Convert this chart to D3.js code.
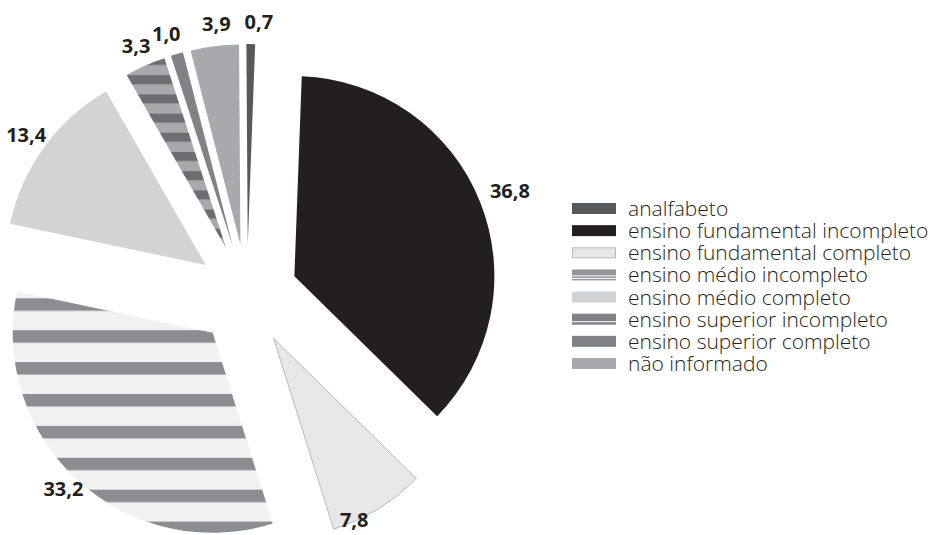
<!DOCTYPE html>
<html>
<head>
<meta charset="utf-8">
<script src="https://cdn.jsdelivr.net/npm/d3@7"></script>
<style>
  body { margin: 0; background: #fff; }
  svg { display: block; font-family: "Open Sans", "DejaVu Sans", sans-serif; }
</style>
</head>
<body>
<div id="chart"></div>
<script>
// categories and values, clockwise from the top
const categories = [
  'analfabeto',
  'ensino fundamental incompleto',
  'ensino fundamental completo',
  'ensino médio incompleto',
  'ensino médio completo',
  'ensino superior incompleto',
  'ensino superior completo',
  'não informado'
];
const values = [0.7, 36.8, 7.8, 33.2, 13.4, 3.3, 1.0, 3.9];

const width = 931, height = 535;
const cx = 247, cy = 295, radius = 200, explode = 51;
const labelR = 222;

// fills: plain colour, or a striped pattern id
const fills = {
  'analfabeto': '#58595b',
  'ensino fundamental incompleto': '#231f20',
  'ensino fundamental completo': '#e6e7e8',
  'ensino médio incompleto': 'url(#pat-mi)',
  'ensino médio completo': '#d1d3d4',
  'ensino superior incompleto': 'url(#pat-si)',
  'ensino superior completo': '#808285',
  'não informado': '#a7a9ac'
};

// small label nudges (angle in degrees, radius in px)
const labelTweak = {
  'ensino fundamental incompleto': { da: 0, dr: 10 },
  'ensino fundamental completo': { da: 7.5, dr: -24 },
  'ensino médio incompleto': { da: 1.5, dr: -6 },
  'ensino superior completo': { da: -1.2, dr: 0 },
  'não informado': { da: 1.2, dr: 0 },
  'analfabeto': { da: 2, dr: 0 }
};

const data = categories.map((c, i) => ({ name: c, value: values[i] }));

const ptBR = d3.formatLocale({ decimal: ',', thousands: '.', grouping: [3], currency: ['R$', ''] });
const fmt = ptBR.format('.1f');

const svg = d3.select('#chart').append('svg')
  .attr('width', width)
  .attr('height', height);

const defs = svg.append('defs');

const start = -0.4 * Math.PI / 180;
const pie = d3.pie().sort(null).value(d => d.value)
  .startAngle(start).endAngle(start + 2 * Math.PI);
const arc = d3.arc().innerRadius(0).outerRadius(radius);

const arcs = pie(data);
arcs.forEach(a => {
  const mid = (a.startAngle + a.endAngle) / 2;
  a.mid = mid;
  a.tx = cx + explode * Math.sin(mid);
  a.ty = cy - explode * Math.cos(mid);
});

// striped patterns, aligned with the page
function stripes(id, light, dark, period, band, pageY, ty) {
  const p = defs.append('pattern')
    .attr('id', id)
    .attr('patternUnits', 'userSpaceOnUse')
    .attr('x', 0)
    .attr('y', pageY - ty)
    .attr('width', width)
    .attr('height', period);
  p.append('rect').attr('width', width).attr('height', period).attr('fill', light);
  p.append('rect').attr('width', width).attr('height', band).attr('fill', dark);
}
const aMi = arcs.find(a => a.data.name === 'ensino médio incompleto');
const aSi = arcs.find(a => a.data.name === 'ensino superior incompleto');
stripes('pat-mi', '#f1f1f2', '#8c8d90', 31.9, 12.5, 298.3, aMi.ty);
stripes('pat-si', '#a7a9ac', '#6d6e71', 19.2, 9, 56, aSi.ty);

const slice = svg.selectAll('.slice')
  .data(arcs)
  .enter()
  .append('g')
  .attr('class', 'slice')
  .attr('transform', d => 'translate(' + d.tx + ',' + d.ty + ')');

slice.append('path')
  .attr('d', arc)
  .attr('fill', d => fills[d.data.name])
  .attr('stroke', d => d.data.name === 'ensino fundamental completo' ? '#b8babd' : 'none')
  .attr('stroke-width', 1);

// value labels
svg.selectAll('.lbl')
  .data(arcs)
  .enter()
  .append('text')
  .attr('class', 'lbl')
  .each(function(d) {
    const t = labelTweak[d.data.name] || { da: 0, dr: 0 };
    const ang = d.mid + t.da * Math.PI / 180;
    const r = labelR + t.dr;
    d3.select(this)
      .attr('x', d.tx + r * Math.sin(ang))
      .attr('y', d.ty - r * Math.cos(ang));
  })
  .attr('dy', '0.36em')
  .attr('text-anchor', 'middle')
  .attr('font-size', 20)
  .attr('font-weight', 700)
  .attr('fill', '#231f20')
  .text(d => fmt(d.data.value));

// legend
const ly = d3.scalePoint().domain(categories).range([208.5, 363.5]);
const lx = 572, sw = 44, sh = 11;

const leg = svg.selectAll('.leg')
  .data(categories)
  .enter()
  .append('g')
  .attr('class', 'leg')
  .attr('transform', d => 'translate(' + lx + ',' + (ly(d) - sh / 2) + ')');

leg.each(function(d) {
  const g = d3.select(this);
  if (d === 'ensino médio incompleto') {
    g.append('rect').attr('width', sw).attr('height', 6).attr('fill', '#939598');
    g.append('rect').attr('y', 7).attr('width', sw).attr('height', 1.5).attr('fill', '#939598');
    g.append('rect').attr('y', 9.5).attr('width', sw).attr('height', 1.5).attr('fill', '#939598');
  } else if (d === 'ensino superior incompleto') {
    g.append('rect').attr('width', sw).attr('height', 7.5).attr('fill', '#808285');
    g.append('rect').attr('y', 8.5).attr('width', sw).attr('height', 2.5).attr('fill', '#808285');
  } else if (d === 'ensino fundamental completo') {
    g.append('rect').attr('x', 0.5).attr('y', 0.5).attr('width', sw - 1).attr('height', sh - 1)
      .attr('fill', '#e6e7e8').attr('stroke', '#b8babd').attr('stroke-width', 1);
  } else {
    g.append('rect').attr('width', sw).attr('height', sh).attr('fill', fills[d]);
  }
});

leg.append('text')
  .attr('x', 628 - lx)
  .attr('y', sh / 2)
  .attr('dy', '0.36em')
  .attr('font-size', 21)
  .attr('font-weight', 300)
  .attr('fill', '#231f20')
  .text(d => d);
</script>
</body>
</html>
